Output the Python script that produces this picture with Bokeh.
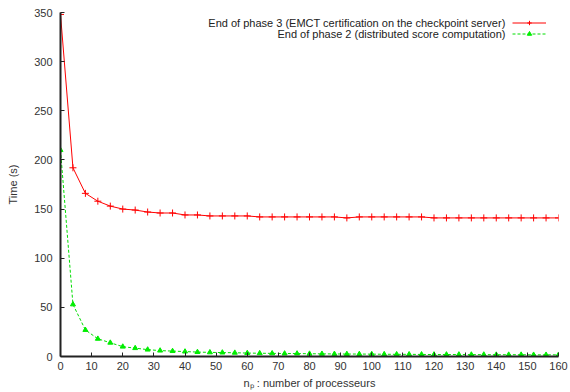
from bokeh.plotting import figure
from bokeh.models import Range1d, Legend, LegendItem, Label, SingleIntervalTicker
from bokeh.embed import file_html
from bokeh.resources import INLINE

processors = list(range(0, 161, 4))
phase3 = [348, 192, 166, 158, 153, 150, 149, 147, 146, 146, 144, 144, 143, 143, 143, 143,
          142, 142, 142, 142, 142, 142, 142, 141, 142, 142, 142, 142, 142, 142, 141, 141,
          141, 141, 141, 141, 141, 141, 141, 141, 141]
phase2 = [210, 53, 27, 18, 14, 10, 8.5, 7, 6, 5.5, 5, 4.5, 4.2, 4, 3.8, 3.5, 3.3, 3.2, 3, 3,
          2.8, 2.7, 2.6, 2.5, 2.5, 2.4, 2.3, 2.2, 2.2, 2.1, 2, 2, 2, 1.9, 1.9, 1.8, 1.8, 1.8,
          1.7, 1.7, 1.7]
label3 = "End of phase 3 (EMCT certification on the checkpoint server)"
label2 = "End of phase 2 (distributed score computation)"

FONT = "Liberation Sans"

p = figure(width=570, height=392, output_backend="svg", toolbar_location=None,
           x_range=Range1d(0, 160), y_range=Range1d(0, 350),
           min_border_left=60, min_border_right=12, min_border_top=12, min_border_bottom=36)
p.outline_line_color = None
p.xgrid.visible = False
p.ygrid.visible = False
p.background_fill_color = "white"

p.xaxis.ticker = SingleIntervalTicker(interval=10, num_minor_ticks=0)
p.yaxis.ticker = SingleIntervalTicker(interval=50, num_minor_ticks=0)
for ax in (p.xaxis, p.yaxis):
    ax.axis_line_color = "#222222"
    ax.axis_line_width = 2
    ax.major_tick_in = 4
    ax.major_tick_out = 0
    ax.major_tick_line_color = "#222222"
    ax.minor_tick_line_color = None
    ax.major_label_text_font = FONT
    ax.major_label_text_font_size = "11px"
    ax.major_label_text_color = "#333333"
    ax.axis_label_text_font = FONT
    ax.axis_label_text_font_size = "11px"
    ax.axis_label_text_font_style = "normal"
    ax.axis_label_text_color = "#333333"
p.yaxis.major_label_standoff = 8
p.xaxis.major_label_standoff = 5
p.yaxis.axis_label = "Time (s)"
p.xaxis.axis_label = "nₚ : number of processeurs"
p.yaxis.axis_label_standoff = 12
p.xaxis.axis_label_standoff = 4

r3l = p.line(processors, phase3, line_color="#ff0000", line_width=1)
r3m = p.scatter(processors, phase3, marker="cross", size=7, line_color="#ff0000", line_width=1)
r2l = p.line(processors, phase2, line_color="#00dd00", line_width=1, line_dash="3 2")
r2m = p.scatter(processors, phase2, marker="triangle", size=5, fill_color="#00ee00",
                line_color="#00ee00")

legend = Legend(items=[LegendItem(label=" ", renderers=[r3l, r3m]),
                       LegendItem(label=" ", renderers=[r2l, r2m])],
                location=(452, 317), orientation="vertical",
                border_line_color=None, background_fill_alpha=0,
                glyph_width=34, glyph_height=11, label_height=11, spacing=0,
                padding=0, margin=0, label_width=1, label_standoff=0,
                label_text_font_size="11px")
p.add_layout(legend)

p.add_layout(Label(x=445, y=334, x_units="screen", y_units="screen", text=label3,
                   text_align="right", text_baseline="middle", text_font=FONT,
                   text_font_size="11px", text_color="#222222"))
p.add_layout(Label(x=445, y=323, x_units="screen", y_units="screen", text=label2,
                   text_align="right", text_baseline="middle", text_font=FONT,
                   text_font_size="11px", text_color="#222222"))

open("out.html", "w").write(file_html(p, INLINE))
